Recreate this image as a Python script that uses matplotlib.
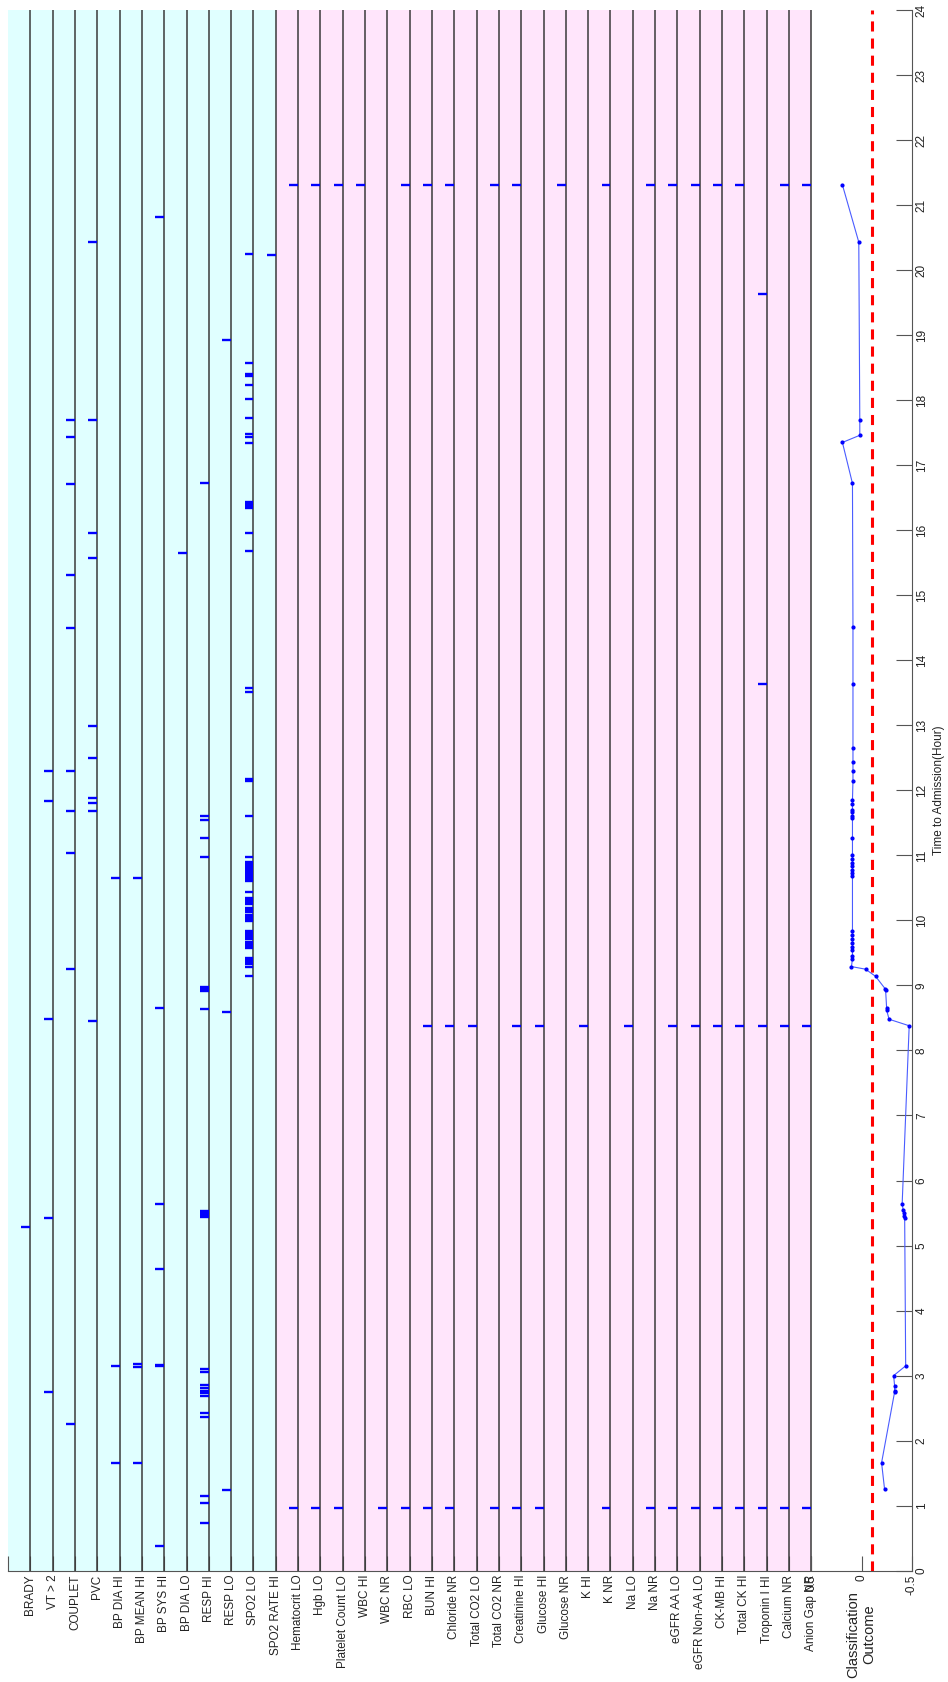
import matplotlib.pyplot as plt

plt.rcParams['font.family'] = ['Liberation Sans', 'DejaVu Sans']

labels = ['BRADY', 'VT > 2', 'COUPLET', 'PVC', 'BP DIA HI', 'BP MEAN HI', 'BP SYS HI',
          'BP DIA LO', 'RESP HI', 'RESP LO', 'SPO2 LO', 'SPO2 RATE HI',
          'Hematocrit LO', 'Hgb LO', 'Platelet Count LO', 'WBC HI', 'WBC NR', 'RBC LO',
          'BUN HI', 'Chloride NR', 'Total CO2 LO', 'Total CO2 NR', 'Creatinine HI',
          'Glucose HI', 'Glucose NR', 'K HI', 'K NR', 'Na LO', 'Na NR', 'eGFR AA LO',
          'eGFR Non-AA LO', 'CK-MB HI', 'Total CK HI', 'Troponin I HI', 'Calcium NR',
          'Anion Gap NR']

# monitor alarms, hours from admission
brady = [5.29]
vt2 = [2.75, 5.43, 8.49, 11.84, 12.30]
couplet = [2.25, 9.26, 11.04, 11.69, 12.29, 14.50, 15.31, 16.71, 17.44, 17.70]
pvc = [8.46, 11.69, 11.80, 11.88, 12.50, 12.99, 15.58, 15.95, 17.69, 20.43]
bp_dia_hi = [1.65, 3.15, 10.65]
bp_mean_hi = [1.65, 3.14, 3.18, 10.65]
bp_sys_hi = [0.38, 3.15, 3.17, 4.64, 5.64, 8.66, 20.81]
bp_dia_lo = [15.65]
resp_hi = [0.74, 1.04, 1.15, 2.37, 2.42, 2.69, 2.73, 2.77, 2.81, 2.86, 3.06, 3.10,
           5.44, 5.47, 5.50, 5.53, 8.64, 8.92, 8.95, 8.98, 10.98, 11.26, 11.55, 11.60, 16.72]
resp_lo = [1.24, 8.59, 18.93]
spo2_lo = [9.14, 9.29, 9.33, 9.36, 9.39, 9.42, 9.58, 9.61, 9.64, 9.67, 9.71, 9.74, 9.77,
           9.80, 9.83, 9.99, 10.02, 10.05, 10.08, 10.13, 10.16, 10.19, 10.25, 10.28, 10.31,
           10.34, 10.43, 10.60, 10.63, 10.66, 10.69, 10.72, 10.75, 10.78, 10.81, 10.84,
           10.87, 10.90, 10.97, 11.61, 12.14, 12.18, 13.52, 13.57, 15.68, 15.96, 16.34,
           16.37, 16.40, 16.43, 17.34, 17.44, 17.48, 17.73, 18.02, 18.24, 18.37, 18.41,
           18.57, 20.25]
spo2_rate_hi = [20.24]

# abnormal lab results
hematocrit_lo = [0.96, 21.31]
hgb_lo = [0.96, 21.31]
platelet_lo = [0.96, 21.31]
wbc_hi = [21.31]
wbc_nr = [0.96]
rbc_lo = [0.96, 21.31]
bun_hi = [0.96, 8.38, 21.31]
chloride_nr = [0.96, 8.38, 21.31]
co2_lo = [8.38]
co2_nr = [0.96, 21.31]
creatinine_hi = [0.96, 8.38, 21.31]
glucose_hi = [0.96, 8.38]
glucose_nr = [21.31]
k_hi = [8.38]
k_nr = [0.96, 21.31]
na_lo = [8.38]
na_nr = [0.96, 21.31]
egfr_aa_lo = [0.96, 8.38, 21.31]
egfr_nonaa_lo = [0.96, 8.38, 21.31]
ckmb_hi = [0.96, 8.38, 21.31]
total_ck_hi = [0.96, 8.38, 21.31]
troponin_hi = [0.96, 8.38, 13.63, 19.64]
calcium_nr = [0.96, 8.38, 21.31]
anion_gap_nr = [0.96, 8.38, 21.31]

# classifier output over time
class_time = [1.25, 1.66, 2.75, 2.77, 2.84, 3.00, 3.15, 5.43, 5.46, 5.50, 5.55, 5.64,
              8.38, 8.48, 8.62, 8.66, 8.93, 8.95, 9.14, 9.25, 9.29, 9.41, 9.46, 9.54,
              9.59, 9.66, 9.72, 9.78, 9.83, 10.68, 10.73, 10.78, 10.83, 10.89, 10.94,
              11.00, 11.26, 11.57, 11.61, 11.66, 11.70, 11.79, 11.85, 12.15, 12.29, 12.44,
              12.65, 13.63, 14.51, 16.72, 17.35, 17.46, 17.69, 20.43, 21.31]
class_score = [-0.23, -0.20, -0.33, -0.33, -0.33, -0.32, -0.44, -0.43, -0.425, -0.42,
               -0.415, -0.405, -0.475, -0.275, -0.25, -0.25, -0.24, -0.235, -0.14, -0.04,
               0.10, 0.09, 0.09, 0.09, 0.09, 0.09, 0.09, 0.09, 0.09, 0.09, 0.09, 0.09,
               0.09, 0.09, 0.09, 0.09, 0.09, 0.09, 0.09, 0.09, 0.09, 0.09, 0.09, 0.085,
               0.085, 0.085, 0.085, 0.085, 0.085, 0.09, 0.19, 0.017, 0.017, 0.027, 0.19]
threshold = -0.1

events = [brady, vt2, couplet, pvc, bp_dia_hi, bp_mean_hi, bp_sys_hi, bp_dia_lo,
          resp_hi, resp_lo, spo2_lo, spo2_rate_hi,
          hematocrit_lo, hgb_lo, platelet_lo, wbc_hi, wbc_nr, rbc_lo, bun_hi, chloride_nr,
          co2_lo, co2_nr, creatinine_hi, glucose_hi, glucose_nr, k_hi, k_nr, na_lo, na_nr,
          egfr_aa_lo, egfr_nonaa_lo, ckmb_hi, total_ck_hi, troponin_hi, calcium_nr,
          anion_gap_nr]
n_vitals = 12
pos = list(range(1, len(labels) + 1))

W, H = 948, 1682
fig = plt.figure(figsize=(W / 100, H / 100), dpi=100)
bottom = 1 - 1570.7 / H
height = (1570.7 - 10) / H
ax = fig.add_axes([8 / W, bottom, (911.7 - 8) / W, height])
ax.set_xlim(0, 40.5)
ax.set_ylim(0, 24)

ax.axvspan(0, n_vitals, color='#E0FFFF', lw=0)
ax.axvspan(n_vitals, len(labels), color='#FFE5FB', lw=0)
ax.vlines(pos, 0, 24, color='#3a3a3a', lw=1.1)
for p, times in zip(pos, events):
    ax.hlines(times, p - 0.4, p, color='blue', lw=1.7)

tick_col = '#555555'
ax.set_xticks(range(0, len(labels) + 1))
ax.set_xticklabels([''] + labels, rotation=90, fontsize=8.5, color='#222222')
ax.tick_params(axis='x', direction='in', length=11, pad=3, color=tick_col)
ax.yaxis.tick_right()
ax.set_yticks(range(25))
ax.set_yticklabels([str(h) for h in range(25)], rotation=90, va='center',
                   fontsize=8.5, color='#222222')
ax.tick_params(axis='y', direction='in', length=11.5, pad=3, color=tick_col)
ax.yaxis.set_label_position('right')
ax.set_ylabel('Time to Admission(Hour)', fontsize=8.5, labelpad=4, color='#222222')
for s in ['top', 'left']:
    ax.spines[s].set_visible(False)
for s in ['bottom', 'right']:
    ax.spines[s].set_color(tick_col)
    ax.spines[s].set_linewidth(0.8)

# classifier panel on the right
ax2 = fig.add_axes([811.3 / W, bottom, (911.7 - 811.3) / W, height])
ax2.patch.set_visible(False)
ax2.set_xlim(0.5, -0.5)
ax2.set_ylim(0, 24)
for s in ax2.spines.values():
    s.set_visible(False)
ax2.set_yticks([])
ax2.set_xticks([0.5, 0, -0.5])
ax2.set_xticklabels(['0.5', '0', '-0.5'], rotation=90, fontsize=8.5, color='#222222')
ax2.tick_params(axis='x', direction='in', length=11, pad=3, color=tick_col)
ax2.set_xlabel('Classification\nOutcome', rotation=90, fontsize=10.5, labelpad=-3,
               color='#222222')
ax2.axvline(threshold, color='red', lw=2.2, ls=(0, (3.3, 2.3)))
ax2.plot(class_score, class_time, color='#4a5cff', lw=0.8)
ax2.plot(class_score, class_time, ls='none', marker='.', ms=4, color='blue')

fig.savefig('out.png', dpi=100)
